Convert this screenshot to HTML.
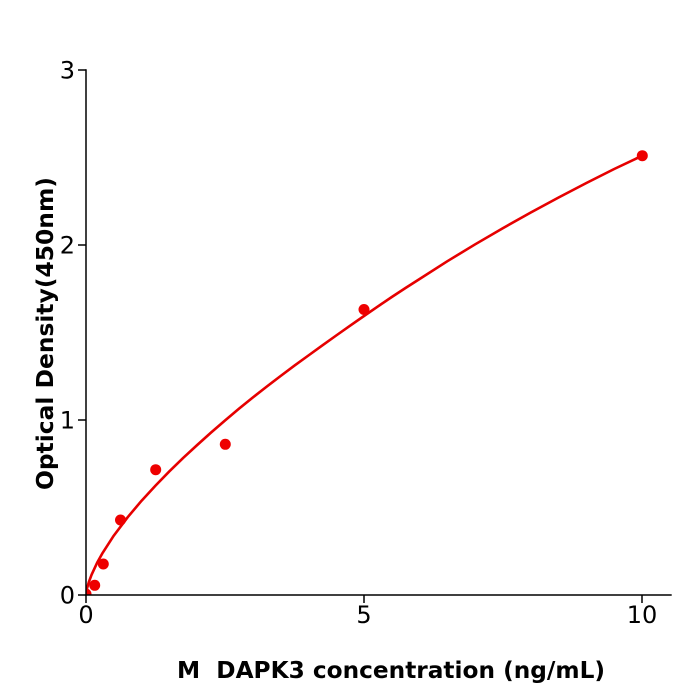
<!DOCTYPE html>
<html>
<head>
<meta charset="utf-8">
<style>
html,body{margin:0;padding:0;background:#fff;}
svg{display:block;}
text{font-family:"DejaVu Sans","Liberation Sans",sans-serif;fill:#000;}
</style>
</head>
<body>
<svg width="700" height="700" viewBox="0 0 700 700" xmlns="http://www.w3.org/2000/svg">
<rect width="700" height="700" fill="#fff"/>
<defs>
<clipPath id="c"><rect x="86" y="60" width="600" height="535"/></clipPath>
</defs>
<!-- curve -->
<polyline clip-path="url(#c)" fill="none" stroke="#e60000" stroke-width="2.6" stroke-linejoin="round"
points="86,595 87.1,588.1 88.8,582.2 91.6,574.7 97.1,562.8 102.7,552.8 113.8,535.6 127.7,517.2 141.6,500.7 155.5,485.6 169.4,471.3 183.3,457.8 197.2,445 211.1,432.5 225,420.5 238.9,408.8 252.8,397.5 266.7,386.6 280.6,376 294.5,365.6 308.4,355.5 322.3,345.4 336.2,335.5 350.1,325.7 364,316 377.9,306.4 391.8,297 405.7,287.9 419.6,279 447.4,261.2 475.2,244.3 503,228.1 530.8,212.5 558.6,197.5 586.4,183 614.2,169 642,155.8"/>
<!-- points -->
<g fill="#ee0000">
<circle cx="86" cy="594" r="5.5" clip-path="url(#c)"/>
<circle cx="94.7" cy="585.3" r="5.5"/>
<circle cx="103.3" cy="564" r="5.5"/>
<circle cx="120.5" cy="520" r="5.5"/>
<circle cx="155.7" cy="469.7" r="5.5"/>
<circle cx="225.3" cy="444.3" r="5.5"/>
<circle cx="364" cy="309.5" r="5.5"/>
<circle cx="642.3" cy="155.7" r="5.5"/>
</g>
<!-- axes -->
<g stroke="#000" stroke-width="1.5" fill="none">
<line x1="86" y1="69.3" x2="86" y2="595.7"/>
<line x1="85.3" y1="595" x2="671.7" y2="595"/>
<line x1="78" y1="70" x2="86" y2="70"/>
<line x1="78" y1="245" x2="86" y2="245"/>
<line x1="78" y1="420" x2="86" y2="420"/>
<line x1="78" y1="595" x2="86" y2="595"/>
<line x1="86" y1="595" x2="86" y2="603"/>
<line x1="364" y1="595" x2="364" y2="603"/>
<line x1="642" y1="595" x2="642" y2="603"/>
</g>
<!-- tick labels -->
<g font-size="24" text-anchor="end">
<text x="75" y="78.5">3</text>
<text x="75" y="253.5">2</text>
<text x="75" y="428.5">1</text>
<text x="75" y="603.5">0</text>
</g>
<g font-size="24" text-anchor="middle">
<text x="86" y="623">0</text>
<text x="364" y="623">5</text>
<text x="642" y="623">10</text>
</g>
<!-- axis labels -->
<text x="177" y="678" font-size="23.5" font-weight="bold" textLength="428" lengthAdjust="spacingAndGlyphs" xml:space="preserve">M  DAPK3 concentration (ng/mL)</text>
<text transform="translate(53,490) rotate(-90)" font-size="23.5" font-weight="bold" textLength="313" lengthAdjust="spacingAndGlyphs">Optical Density(450nm)</text>
</svg>
</body>
</html>
